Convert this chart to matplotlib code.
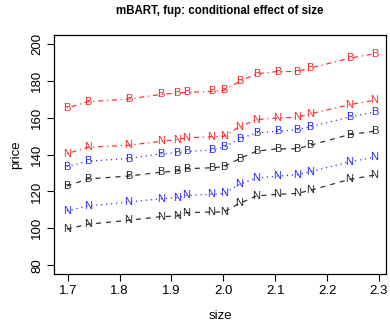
import matplotlib
matplotlib.use("Agg")
import matplotlib.pyplot as plt

plt.rcParams['font.family'] = ['Liberation Sans', 'DejaVu Sans']

size = [1.698, 1.739, 1.817, 1.880, 1.910, 1.929, 1.977, 2.001, 2.031, 2.064, 2.104, 2.142, 2.167, 2.243, 2.291]

black_N = [99.5, 102.2, 104.3, 106.3, 106.6, 108.5, 108.8, 108.8, 113.5, 117.5, 118.4, 118.9, 120.5, 126.5, 128.8]
blue_N = [109.4, 112.1, 114.2, 116.0, 116.6, 117.8, 118.4, 118.9, 123.8, 127.2, 128.3, 129.0, 130.6, 136.0, 138.5]
black_B = [122.9, 126.8, 128.3, 130.4, 131.0, 132.3, 132.8, 133.4, 137.7, 141.8, 143.1, 143.1, 145.0, 150.8, 152.6]
blue_B = [133.4, 136.4, 137.8, 140.4, 140.9, 141.8, 142.3, 144.0, 148.5, 151.7, 152.6, 153.5, 155.0, 160.3, 163.1]
red_N = [140.4, 143.9, 145.0, 147.2, 148.1, 149.0, 149.6, 149.9, 155.0, 158.9, 159.8, 160.2, 162.0, 167.0, 169.4]
red_B = [165.2, 168.6, 170.1, 172.6, 173.3, 173.7, 174.2, 174.8, 179.6, 183.8, 185.0, 185.0, 186.8, 192.2, 194.6]

series = [
    (black_N, 'N', 'black', (0, (4, 4))),
    (blue_N, 'N', 'blue', (0, (1, 3))),
    (black_B, 'B', 'black', (0, (4, 4))),
    (blue_B, 'B', 'blue', (0, (1, 3))),
    (red_N, 'N', 'red', (0, (1, 3, 4, 3))),
    (red_B, 'B', 'red', (0, (1, 3, 4, 3))),
]

xticks = [1.7, 1.8, 1.9, 2.0, 2.1, 2.2, 2.3]
yticks = [80, 100, 120, 140, 160, 180, 200]

fig = plt.figure(figsize=(3.9, 3.21), dpi=100)
ax = fig.add_axes([54/390, 47/321, 332/390, 239/321])

for vals, letter, col, ls in series:
    ax.plot(size, vals, color=col, linestyle=ls, linewidth=0.9, alpha=0.8)
    for x, y in zip(size, vals):
        ax.text(x, y, letter, color=col, fontsize=8, ha='center', va='center', alpha=0.85)

ax.set_xlim(1.6735, 2.3135)
ax.set_ylim(75.2, 204.8)
ax.set_xticks(xticks)
ax.set_xticklabels([f"{t:.1f}" for t in xticks], fontsize=9.5)
ax.set_yticks(yticks)
ax.set_yticklabels([str(t) for t in yticks], fontsize=9.5, rotation=90, va='center')
ax.tick_params(direction='out', length=5, width=0.8, pad=3)
for s in ax.spines.values():
    s.set_linewidth(0.9)

ax.set_xlabel('size', fontsize=9.5, labelpad=9)
ax.set_ylabel('price', fontsize=9.5, labelpad=6)
ax.set_title('mBART, fup: conditional effect of size', fontsize=8.3, fontweight='bold', pad=15)

fig.savefig('out.png', dpi=100)
